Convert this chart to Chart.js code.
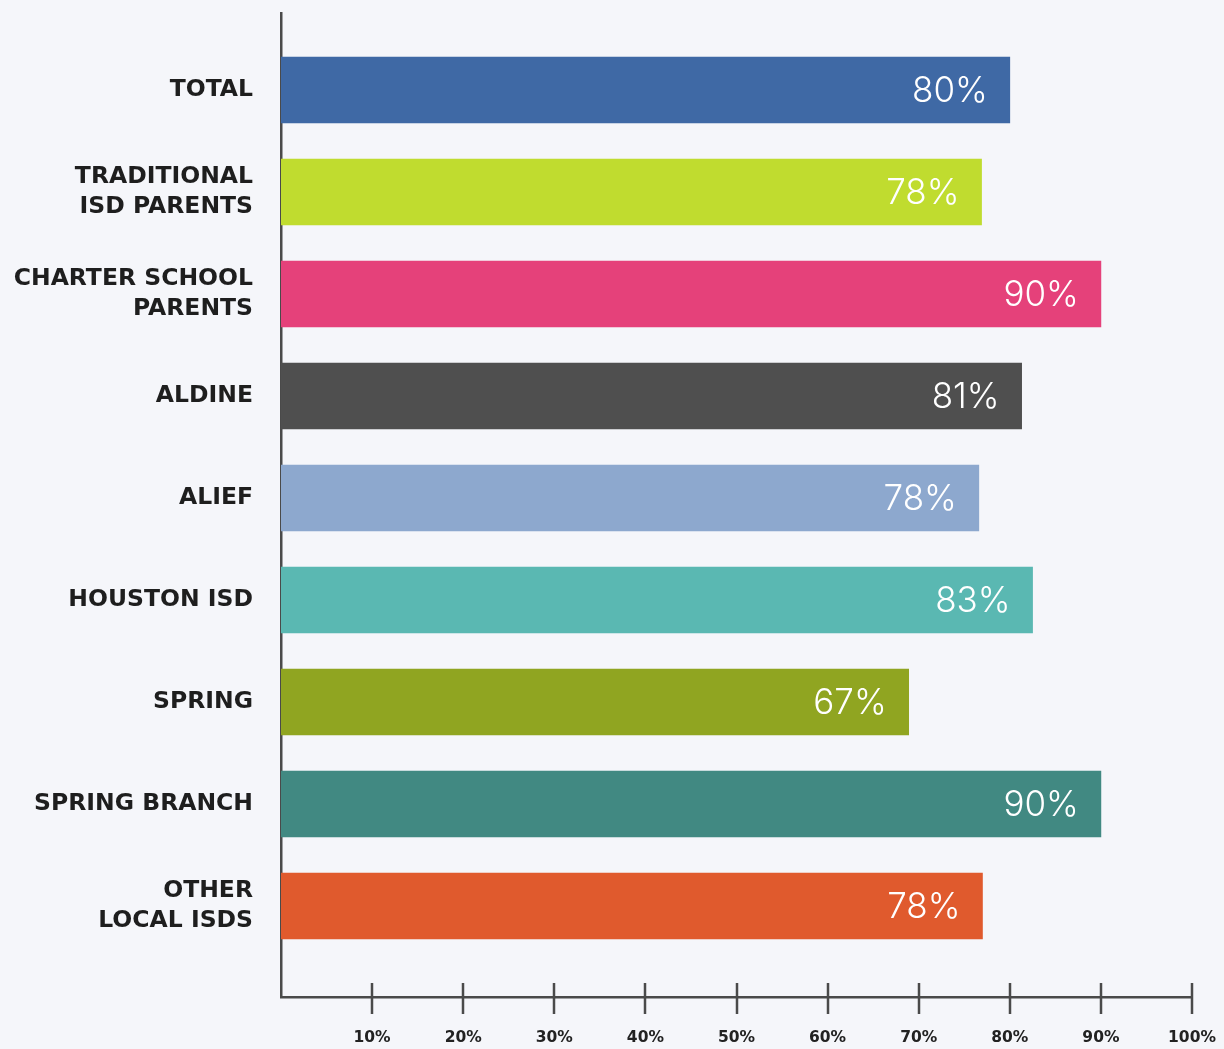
<!DOCTYPE html>
<html>
<head>
<meta charset="utf-8">
<script src="https://cdn.jsdelivr.net/npm/chart.js@4.4.1/dist/chart.umd.min.js"></script>
<style>
  html, body { margin: 0; padding: 0; background: #f5f6fa; }
  #wrap { width: 1224px; height: 1049px; position: relative; }
</style>
</head>
<body>
<div id="wrap"><canvas id="chart"></canvas></div>
<script>
// ── Dados ─────────────────────────────────────────────────────
const CATEGORIAS = [
  ["TOTAL"],
  ["TRADITIONAL", "ISD PARENTS"],
  ["CHARTER SCHOOL", "PARENTS"],
  ["ALDINE"],
  ["ALIEF"],
  ["HOUSTON ISD"],
  ["SPRING"],
  ["SPRING BRANCH"],
  ["OTHER", "LOCAL ISDS"],
];
// comprimento das barras como desenhado na figura
const VALORES = [80, 76.9, 90, 81.3, 76.6, 82.5, 68.9, 90, 77];
// rótulos impressos nas barras
const ROTULOS = ["80%", "78%", "90%", "81%", "78%", "83%", "67%", "90%", "78%"];
const CORES = [
  "#3f69a5", "#c0dc2f", "#e5417a", "#4f4f4f", "#8da8ce",
  "#5ab8b2", "#90a521", "#418982", "#e05a2d",
];
const TICKS_X = [10, 20, 30, 40, 50, 60, 70, 80, 90, 100];

const AXIS_COLOR = "#4a4a4a";
const LABEL_FONT = "'DejaVu Sans', 'Noto Sans', sans-serif";

// ── Plugins ───────────────────────────────────────────────────
const valueLabels = {
  id: "valueLabels",
  afterDatasetsDraw(chart) {
    const ctx = chart.ctx;
    const meta = chart.getDatasetMeta(0);
    ctx.save();
    ctx.fillStyle = "#ffffff";
    ctx.font = "300 35px Inter, 'Noto Sans', sans-serif";
    ctx.textAlign = "right";
    ctx.textBaseline = "middle";
    meta.data.forEach((bar, i) => {
      ctx.fillText(ROTULOS[i], bar.x - 22, bar.y + 1);
    });
    ctx.restore();
  },
};

// marcas cruzando o eixo x
const crossTicks = {
  id: "crossTicks",
  afterDraw(chart) {
    const x = chart.scales.x;
    const ctx = chart.ctx;
    ctx.save();
    ctx.strokeStyle = AXIS_COLOR;
    ctx.lineWidth = 2.5;
    TICKS_X.forEach((v) => {
      const px = Math.round(x.getPixelForValue(v));
      ctx.beginPath();
      ctx.moveTo(px, x.top - 14);
      ctx.lineTo(px, x.top + 17);
      ctx.stroke();
    });
    ctx.restore();
  },
};

// ── Gráfico ───────────────────────────────────────────────────
new Chart(document.getElementById("chart"), {
  type: "bar",
  data: {
    datasets: [
      {
        data: VALORES.map((v, i) => ({ x: v, y: i })),
        backgroundColor: CORES,
        borderWidth: 0,
        barThickness: 66,
      },
    ],
  },
  plugins: [valueLabels, crossTicks],
  options: {
    indexAxis: "y",
    responsive: true,
    maintainAspectRatio: false,
    animation: false,
    layout: { padding: { top: 13, right: 32, bottom: 0, left: 0 } },
    plugins: { legend: { display: false }, tooltip: { enabled: false } },
    scales: {
      x: {
        type: "linear",
        min: 0,
        max: 100,
        afterBuildTicks: (s) => {
          s.ticks = TICKS_X.map((v) => ({ value: v }));
        },
        grid: { display: false, drawTicks: false },
        border: { display: true, color: AXIS_COLOR, width: 2.5 },
        ticks: {
          color: "#222222",
          padding: 32,
          maxRotation: 0,
          font: { family: LABEL_FONT, size: 15.5, weight: "700" },
          callback: (v) => v + "%",
        },
        afterFit: (s) => {
          s.height = 52;
          s.paddingLeft = 0;
          s.paddingRight = 0;
        },
      },
      y: {
        type: "linear",
        reverse: true,
        offset: false,
        min: -0.755,
        max: 8.892,
        afterBuildTicks: (s) => {
          s.ticks = CATEGORIAS.map((c, i) => ({ value: i }));
        },
        grid: { display: false, drawTicks: false, offset: false },
        border: { display: true, color: AXIS_COLOR, width: 2.5 },
        ticks: {
          color: "#1e1e1e",
          padding: 28,
          autoSkip: false,
          font: {
            family: LABEL_FONT,
            size: 23.5,
            weight: "700",
            lineHeight: 1.25,
          },
          callback: (v) => CATEGORIAS[v],
        },
        afterFit: (s) => {
          s.width = 281;
          s.paddingTop = 0;
          s.paddingBottom = 0;
        },
      },
    },
  },
});
</script>
</body>
</html>
